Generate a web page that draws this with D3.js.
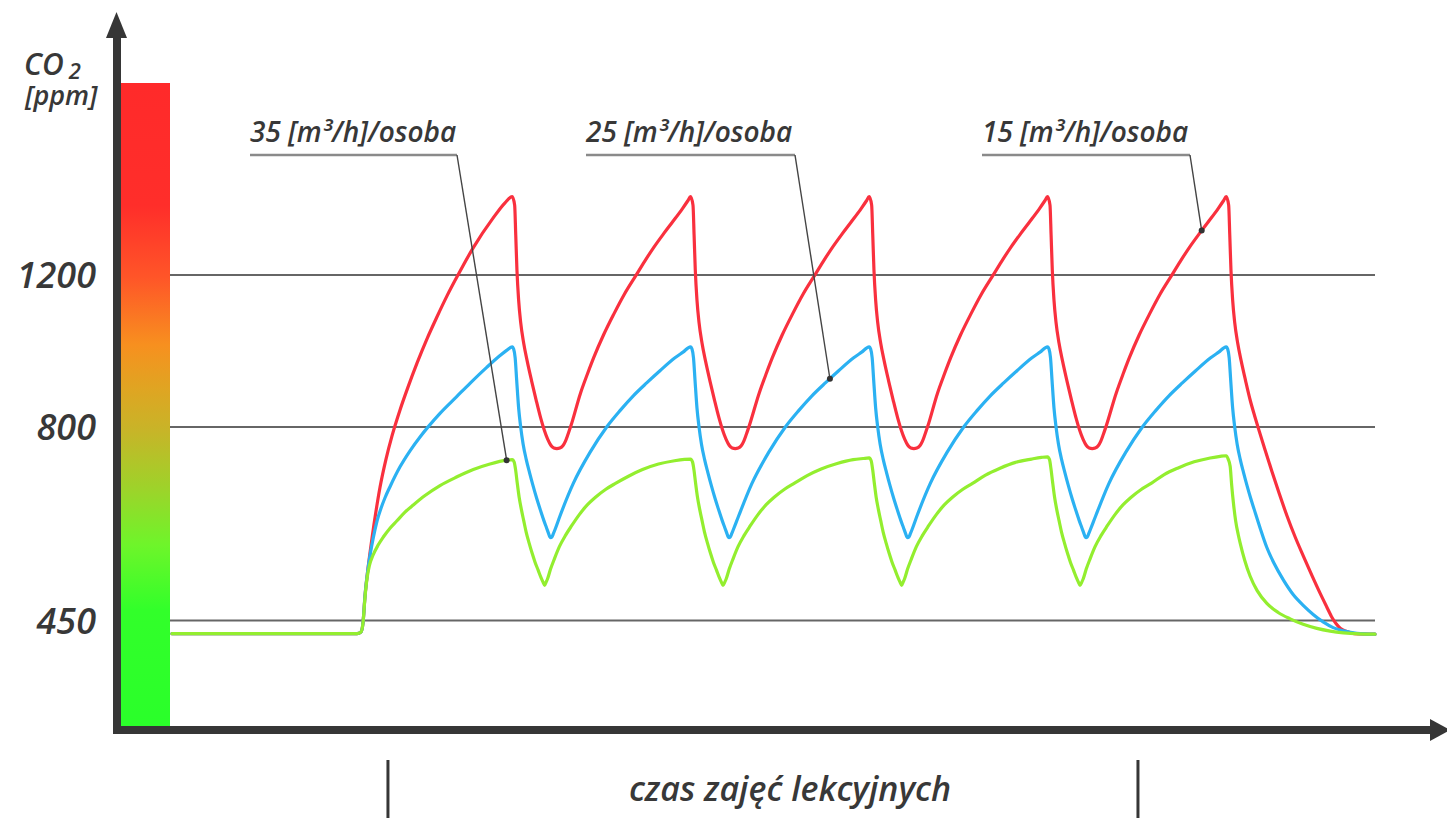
<!DOCTYPE html>
<html><head><meta charset="utf-8">
<script src="https://cdn.jsdelivr.net/npm/d3@7"></script>
<style>
html,body{margin:0;padding:0;background:#fff;}
svg{display:block;}
text{font-family:"Open Sans",sans-serif;font-style:italic;font-weight:600;fill:#383838;}
</style></head><body>
<svg id="chart" width="1447" height="818"></svg>
<script>
// ---------- data (time in minutes, CO2 in ppm) ----------
const yTicks = [450, 800, 1200];
const yBreaks = [250, 450, 800, 1200, 1700];
const timeDomain = [-59, 312];
const flowLabels = ["35 [m³/h]/osoba", "25 [m³/h]/osoba", "15 [m³/h]/osoba"];
const yTitle = ["CO", "2", "[ppm]"];
const xTitle = "czas zajęć lekcyjnych";
const lessonBounds = [7.6, 238.9];

const red15 = [
  [-59,426],[-1.94,426],[-0.71,429],[-0.09,446],[0.52,494],[1.45,544],[2.68,599],[3.92,648],[5.15,691],[7.0,742],[8.85,784],[11.32,845],[13.78,905],[16.56,968],[19.64,1032],[22.73,1090],[25.81,1145],[29.2,1200],[33.83,1270],[40.0,1348],[43.7,1388],[45.9,1404],
  [46.67,1382],[47.01,1304],[47.38,1213],[47.9,1134],[48.52,1076],[49.45,1021],[50.53,974],[51.91,921],[53.3,871],[54.69,824],[55.77,795],[56.85,778],[57.83,767],[58.76,762],[59.69,761],[60.61,762],[61.54,766],[62.31,774],[63.08,786],[63.94,801],
  [66.98,889],[69.14,940],[71.08,983],[74.07,1042],[77.25,1097],[80.55,1150],[83.94,1197],[86.71,1235],[89.58,1272],[92.57,1307],[95.35,1338],[98.43,1373],[100.13,1394],[100.9,1404],
  [101.67,1382],[102.01,1304],[102.38,1213],[102.9,1134],[103.52,1076],[104.45,1021],[105.53,974],[106.91,921],[108.3,871],[109.69,824],[110.77,795],[111.85,778],[112.83,767],[113.76,762],[114.69,761],[115.61,762],[116.54,766],[117.31,774],[118.08,786],[118.94,801],
  [122.08,889],[124.24,940],[126.18,983],[129.17,1042],[132.35,1097],[135.65,1150],[139.04,1197],[141.81,1235],[144.68,1272],[147.67,1307],[150.45,1338],[153.53,1373],[155.23,1394],[156.0,1404],
  [156.77,1382],[157.11,1304],[157.48,1213],[158.0,1134],[158.62,1076],[159.55,1021],[160.63,974],[162.01,921],[163.4,871],[164.79,824],[165.87,795],[166.95,778],[167.93,767],[168.86,762],[169.79,761],[170.71,762],[171.64,766],[172.41,774],[173.18,786],[174.04,801],
  [177.08,889],[179.24,940],[181.18,983],[184.17,1042],[187.35,1097],[190.65,1150],[194.04,1197],[196.81,1235],[199.68,1272],[202.67,1307],[205.45,1338],[208.53,1373],[210.23,1394],[211.0,1404],
  [211.77,1382],[212.11,1304],[212.48,1213],[213.0,1134],[213.62,1076],[214.55,1021],[215.63,974],[217.01,921],[218.4,871],[219.79,824],[220.87,795],[221.95,778],[222.93,767],[223.86,762],[224.79,761],[225.71,762],[226.64,766],[227.41,774],[228.18,786],[229.04,801],
  [232.18,889],[234.34,940],[236.28,983],[239.27,1042],[242.45,1097],[245.75,1150],[249.14,1197],[251.91,1235],[254.78,1272],[257.77,1307],[260.55,1338],[263.63,1373],[265.33,1394],[266.1,1404],
  [266.87,1382],[267.21,1304],[267.58,1213],[268.1,1134],[268.72,1076],[269.65,1021],[270.73,974],[272.11,921],[273.5,871],[274.89,829],[276.06,797],[278.13,758],[280.19,720],[282.44,680],[284.82,640],[287.38,601],[289.94,566],[292.5,532],[295.09,499],[297.09,475],[298.79,455],[300.02,444],[301.26,436],[303.32,430],[305.57,426],[312,425]
];
const blue25 = [
  [-59,426],[-1.94,426],[-0.71,429],[-0.09,446],[0.52,495],[1.45,544],[2.22,573],[3.08,600],[4.23,630],[5.46,653],[6.69,672],[8.23,692],[11.32,728],[14.4,757],[17.49,782],[20.05,801],[23.65,836],[28.8,880],[32.9,915],[38.06,957],[42.16,988],[44.4,1003],[45.9,1011],
  [46.36,1005],[46.83,982],[47.29,924],[47.9,850],[48.52,801],[49.29,769],[50.22,742],[51.24,718],[52.38,693],[53.46,671],[54.54,651],[55.61,632],[56.54,617],[57.09,608],[57.46,602],[57.77,600],[58.14,601],[58.61,607],[59.16,615],
  [60.65,639],[64.76,698],[69.91,754],[75.06,800],[79.16,843],[83.26,882],[87.39,916],[91.49,948],[96.12,982],[98.59,997],[100.9,1011],
  [101.36,1005],[101.83,982],[102.29,924],[102.9,850],[103.52,801],[104.29,769],[105.22,742],[106.24,718],[107.38,693],[108.46,671],[109.54,651],[110.61,632],[111.54,617],[112.09,608],[112.46,602],[112.77,600],[113.14,601],[113.61,607],[114.16,615],
  [115.75,639],[119.86,698],[125.01,754],[130.16,800],[134.26,843],[138.36,882],[142.49,916],[146.59,948],[151.22,982],[153.69,997],[156.0,1011],
  [156.46,1005],[156.93,982],[157.39,924],[158.0,850],[158.62,801],[159.39,769],[160.32,742],[161.34,718],[162.48,693],[163.56,671],[164.64,651],[165.71,632],[166.64,617],[167.19,608],[167.56,602],[167.87,600],[168.24,601],[168.71,607],[169.26,615],
  [170.75,639],[174.86,698],[180.01,754],[185.16,800],[189.26,843],[193.36,882],[197.49,916],[201.59,948],[206.22,982],[208.69,997],[211.0,1011],
  [211.46,1005],[211.93,982],[212.39,924],[213.0,850],[213.62,801],[214.39,769],[215.32,742],[216.34,718],[217.48,693],[218.56,671],[219.64,651],[220.71,632],[221.64,617],[222.19,608],[222.56,602],[222.87,600],[223.24,601],[223.71,607],[224.26,615],
  [225.85,639],[229.96,698],[235.11,754],[240.26,800],[244.36,843],[248.46,882],[252.59,916],[256.69,948],[261.32,982],[263.79,997],[266.1,1011],
  [266.56,1005],[267.03,982],[267.49,924],[268.1,850],[268.72,801],[269.49,769],[270.42,742],[271.44,718],[272.58,693],[273.66,671],[274.74,651],[276.59,617],[278.65,582],[280.9,553],[283.77,523],[286.76,497],[289.94,477],[292.93,461],[296.11,447],[299.1,437],[302.27,431],[306.41,426.5],[312,425]
];
const green35 = [
  [-59,426],[-1.94,426],[-0.71,429],[-0.09,446],[0.52,492],[1.14,526],[1.91,550],[2.99,568],[4.53,586],[6.17,601],[8.23,617],[10.3,630],[12.86,646],[15.42,659],[19.03,676],[23.65,694],[28.59,709],[33.92,723],[39.07,733],[44.22,740],[45.9,741],
  [46.52,736.5],[46.98,722],[47.44,700],[48.06,673],[48.74,651],[49.45,631],[50.22,610],[51.14,590],[52.07,571.5],[52.99,555],[53.92,541],[54.84,527],[55.46,519],[55.92,513.5],
  [56.34,519],[56.8,525],[57.72,542.5],[58.96,562],[60.5,584],[62.35,604],[64.2,621],[66.67,642],[69.14,659.5],[71.6,673],[74.69,687],[77.77,698],[81.78,711],[86.1,723],[91.03,733],[95.97,739],[99.05,741.4],[100.9,742],
  [101.52,737],[101.98,722],[102.44,700],[103.06,673],[103.74,651],[104.45,631],[105.22,610],[106.14,590],[107.07,571.5],[107.99,555],[108.92,541],[109.84,527],[110.46,519],[110.92,513.5],
  [111.44,519],[111.9,525],[112.82,542.5],[114.06,562],[115.6,584],[117.45,604],[119.3,621],[121.77,642],[124.24,659.5],[126.7,673],[129.79,687],[132.87,698],[136.88,712],[141.2,724],[146.13,734],[151.07,741],[154.15,743],[156.0,744],
  [156.62,739],[157.08,723],[157.54,701],[158.16,673],[158.84,651],[159.55,631],[160.32,610],[161.24,590],[162.17,571.5],[163.09,555],[164.02,541],[164.94,527],[165.56,519],[166.02,513.5],
  [166.44,519],[166.9,525],[167.82,542.5],[169.06,562],[170.6,584],[172.45,604],[174.3,621],[176.77,642],[179.24,659.5],[181.7,673],[184.79,687],[187.87,698],[191.88,713],[196.2,725],[201.13,736],[206.07,742],[209.15,745],[211.0,746],
  [211.62,741],[212.08,724],[212.54,702],[213.16,674],[213.84,651],[214.55,631],[215.32,610],[216.24,590],[217.17,571.5],[218.09,555],[219.02,541],[219.94,527],[220.56,519],[221.02,513.5],
  [221.54,519],[222.0,525],[222.92,542.5],[224.16,562],[225.7,584],[227.55,604],[229.4,621],[231.87,642],[234.34,659.5],[236.8,673],[239.89,687],[242.97,698],[246.98,714],[251.3,726],[256.23,737],[261.17,744],[264.25,747],[266.1,748],
  [266.72,742],[267.33,729],[267.8,695],[268.35,662],[269.03,630],[269.8,606],[270.42,590],[271.81,559],[273.5,530],[275.66,504],[278.65,481],[282.14,464.5],[285.84,453],[289.85,443],[294.07,435.6],[298.17,430.7],[302.27,427.5],[307.12,425.6],[312,425]
];
// which curve each flow label points to, and the time of the pointed spot
const annotationSeries = [green35, blue25, red15];
const annotationTimes = [44.2, 143.9, 258.55];

// ---------- layout ----------
const svg = d3.select("#chart");
const x = d3.scaleLinear().domain(timeDomain).range([172, 1375]);
const y = d3.scaleLinear().domain(yBreaks).range([730, 620.5, 427, 275, 83]);
const ink = "#363636";

// gradient bar
const defs = svg.append("defs");
const grad = defs.append("linearGradient").attr("id","co2grad")
  .attr("gradientUnits","userSpaceOnUse").attr("x1",0).attr("x2",0)
  .attr("y1", y(1700)).attr("y2", y(250));
[[0,"#ff2a2a"],[0.19,"#ff2e2a"],[0.3,"#ff5528"],[0.405,"#f7901f"],[0.47,"#e0a422"],[0.536,"#c8b428"],
 [0.63,"#9cd42a"],[0.714,"#6ef52a"],[0.814,"#32ff2a"],[1,"#2aff2a"]]
  .forEach(s => grad.append("stop").attr("offset", s[0]).attr("stop-color", s[1]));
svg.append("rect").attr("x",121).attr("width",49)
  .attr("y", y(1700)).attr("height", y(250) - y(1700) - 4)
  .attr("fill","url(#co2grad)");

// grid lines
svg.append("g").selectAll("line").data(yTicks).join("line")
  .attr("x1",170).attr("x2", x(timeDomain[1]))
  .attr("y1", d => y(d)).attr("y2", d => y(d))
  .attr("stroke","#666").attr("stroke-width",1.8);

// y tick labels
const yAxis = svg.append("g").attr("transform","translate(117,0)")
  .call(d3.axisLeft(y).tickValues(yTicks).tickSize(0).tickPadding(21).tickFormat(d3.format("d")));
yAxis.select(".domain").remove();
yAxis.selectAll("text").attr("font-size",36).attr("fill",ink)
  .style("font-family","'Open Sans',sans-serif").style("font-style","italic").style("font-weight","600")
  .attr("dy","0.36em");

// curves
const line = d3.line().x(d => x(d[0])).y(d => y(d[1])).curve(d3.curveMonotoneX);
const series = [
  {data: red15, color: "#f9303e"},
  {data: blue25, color: "#2bb1f2"},
  {data: green35, color: "#93ee2f"}
];
svg.append("g").selectAll("path").data(series).join("path")
  .attr("d", d => line(d.data)).attr("fill","none")
  .attr("stroke", d => d.color).attr("stroke-width",3.2)
  .attr("stroke-linejoin","round").attr("stroke-linecap","round");

// axes with arrows
svg.append("line").attr("x1",117).attr("x2",117).attr("y1",734).attr("y2",34)
  .attr("stroke",ink).attr("stroke-width",8);
svg.append("path").attr("d","M106,38 L127,38 L116.5,12 Z").attr("fill",ink);
svg.append("line").attr("x1",113).attr("x2",1432).attr("y1",730).attr("y2",730)
  .attr("stroke",ink).attr("stroke-width",8);
svg.append("path").attr("d","M1430,719 L1430,741 L1450,730 Z").attr("fill",ink);

// y title (one text block, two lines)
const yt = svg.append("text").attr("x",24).attr("y",75).attr("font-size",30);
yt.append("tspan").text(yTitle[0]);
yt.append("tspan").attr("dy",4).attr("dx",5).attr("font-size",22).text(yTitle[1]);
yt.append("tspan").attr("x",25).attr("dy",26).attr("font-size",27).text(yTitle[2]);

// annotations
function valueAt(data, t) {
  const i = d3.bisector(d => d[0]).left(data, t);
  const a = data[i-1], b = data[i];
  return a[1] + (b[1]-a[1]) * (t - a[0]) / (b[0]-a[0]);
}
const labelLeft = [250, 586, 982];
const labelRight = [457, 795, 1190];
flowLabels.forEach((lab, i) => {
  svg.append("text").attr("x", labelLeft[i]).attr("y", 142).attr("font-size", 28).text(lab);
  svg.append("line").attr("x1", labelLeft[i]).attr("x2", labelRight[i]).attr("y1",155).attr("y2",155)
    .attr("stroke","#8a8a8a").attr("stroke-width",2.5);
  const tx = x(annotationTimes[i]), ty = y(valueAt(annotationSeries[i], annotationTimes[i]));
  svg.append("line").attr("x1", labelRight[i]).attr("y1",155).attr("x2", tx).attr("y2", ty)
    .attr("stroke","#444").attr("stroke-width",1.4);
  svg.append("circle").attr("cx", tx).attr("cy", ty).attr("r",3).attr("fill","#333");
});

// lesson time bounds
svg.append("g").selectAll("line").data(lessonBounds).join("line")
  .attr("x1", d => x(d)).attr("x2", d => x(d)).attr("y1",760).attr("y2",818)
  .attr("stroke",ink).attr("stroke-width",3);
svg.append("text").attr("x",790).attr("y",801).attr("text-anchor","middle")
  .attr("font-size",34).text(xTitle);
</script>
</body></html>
